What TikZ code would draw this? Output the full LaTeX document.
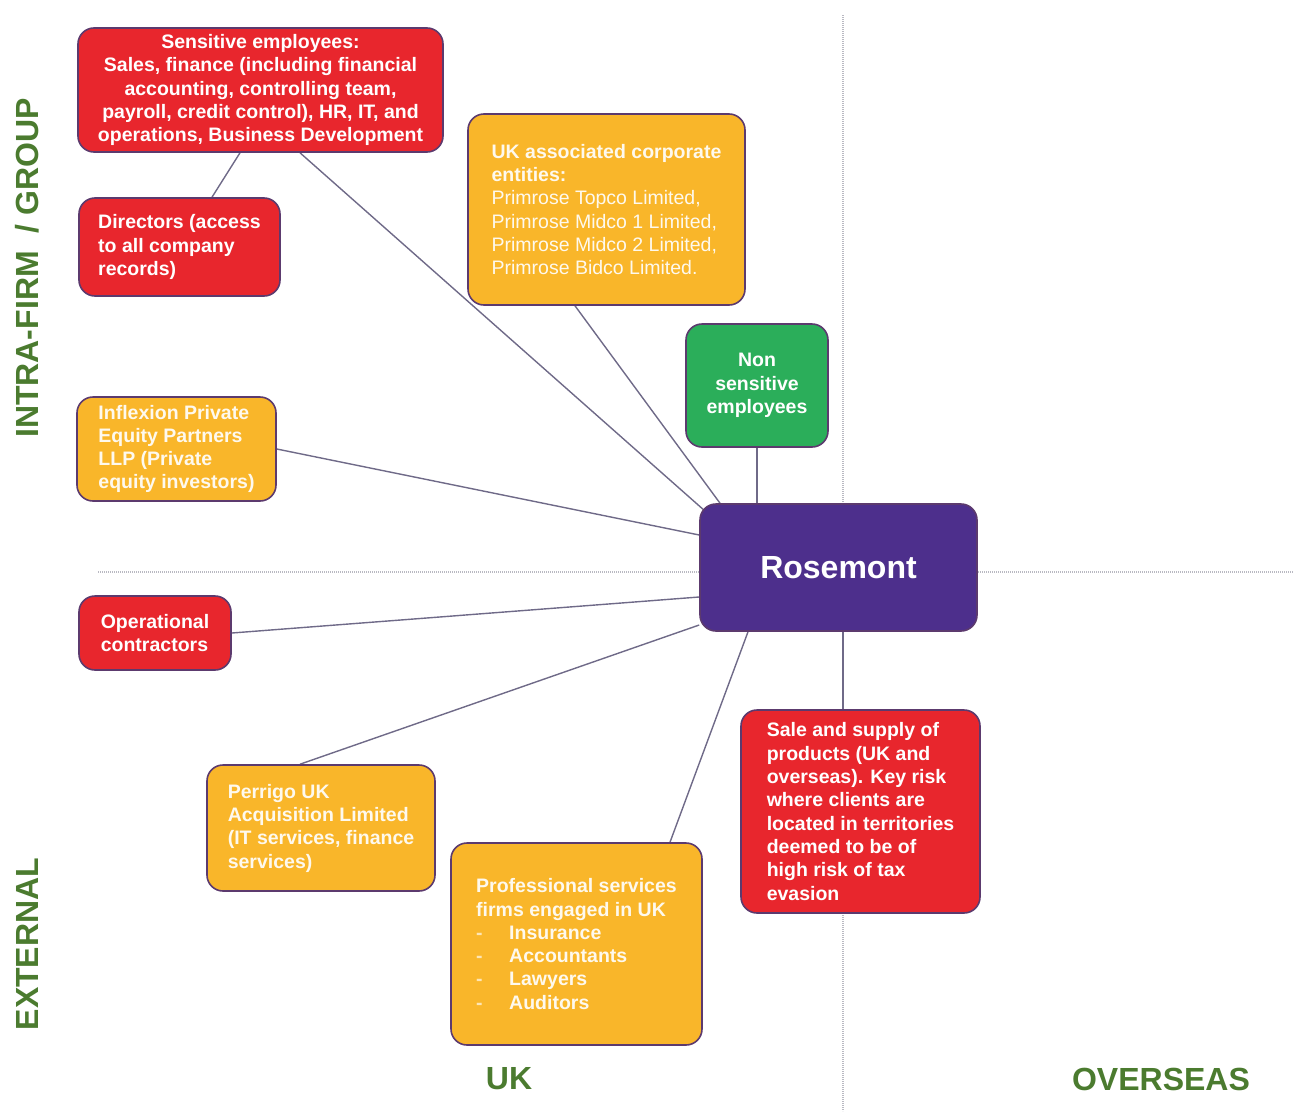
\documentclass[tikz,border=0pt]{standalone}
\usepackage{fontspec}
\setmainfont{Liberation Sans}
\usetikzlibrary{backgrounds}

\definecolor{boxred}{HTML}{E8262D}
\definecolor{boxorange}{HTML}{F9B62A}
\definecolor{boxgreen}{HTML}{2BAE5A}
\definecolor{boxpurple}{HTML}{4D2F8C}
\definecolor{boxline}{HTML}{5C3A6E}
\definecolor{linkgrey}{HTML}{6F6A88}
\definecolor{axisgreen}{HTML}{4B7B2F}
\definecolor{divgrey}{HTML}{B9B9C2}

\newcommand{\dashitem}[1]{\makebox[33pt][l]{\textcolor{white!65!boxorange}{-}}#1}

\begin{document}
\begin{tikzpicture}[x=1pt, y=-1pt,
	box/.style={draw=boxline, line width=1.6pt, rounded corners=16pt, text=white, inner sep=0pt,
		font=\bfseries\fontsize{19.5}{23.3}\selectfont},
	redbox/.style={box, fill=boxred},
	orangebox/.style={box, fill=boxorange, text=white!92!boxorange},
	greenbox/.style={box, fill=boxgreen},
	link/.style={draw=linkgrey, line width=1.4pt},
	divider/.style={draw=divgrey, line width=1.3pt, dash pattern=on 1.2pt off 0.8pt},
	axis/.style={text=axisgreen, font=\bfseries\fontsize{32}{32}\selectfont}]

	\useasboundingbox (0,0) rectangle (1293,1111);

	%centro
	\node[box, fill=boxpurple, minimum width=277pt, minimum height=127pt,
		font=\bfseries\fontsize{32}{32}\selectfont] (rose) at (838.5,567.5) {Rosemont};

	%intra-firm / group
	\node[redbox, minimum width=365pt, minimum height=124pt, align=center] (sens) at (260.5,90)
		{Sensitive employees:\\ Sales, finance (including financial\\ accounting, controlling team,\\
		payroll, credit control), HR, IT, and\\ operations, Business Development};
	\node[redbox, minimum width=201pt, minimum height=98pt, align=left] (dir) at (179.5,247)
		{Directors (access\\ to all company\\ records)};
	\node[orangebox, minimum width=277pt, minimum height=191pt, align=left] (ukco) at (606.5,209.5)
		{UK associated corporate\\ entities:\\ \mdseries Primrose Topco Limited,\\
		\mdseries Primrose Midco 1 Limited,\\ \mdseries Primrose Midco 2 Limited,\\
		\mdseries Primrose Bidco Limited.};
	\node[greenbox, minimum width=142pt, minimum height=123pt, align=center] (nonsens) at (757,385.5)
		{Non\\ sensitive\\ employees};
	\node[orangebox, minimum width=199pt, minimum height=104pt, align=left] (inflex) at (176.5,449)
		{Inflexion Private\\ Equity Partners\\ LLP (Private\\ equity investors)};

	%external
	\node[redbox, minimum width=152pt, minimum height=74pt, align=left] (oper) at (155,633)
		{Operational\\ contractors};
	\node[orangebox, minimum width=228pt, minimum height=126pt, align=left] (perr) at (321,828)
		{Perrigo UK\\ Acquisition Limited\\ (IT services, finance\\ services)};
	\node[orangebox, minimum width=251pt, minimum height=202pt, align=left] (prof) at (576.5,944)
		{Professional services\\ firms engaged in UK\\ \dashitem{Insurance}\\ \dashitem{Accountants}\\
		\dashitem{Lawyers}\\ \dashitem{Auditors}};
	\node[redbox, minimum width=239pt, minimum height=203pt, align=left] (sale) at (860.5,811.5)
		{Sale and supply of\\ products (UK and\\ overseas). Key risk\\ where clients are\\
		located in territories\\ deemed to be of\\ high risk of tax\\ evasion};

	%eixos
	\node[axis, rotate=90] (intra) at (27,268) {INTRA-FIRM\ \ / GROUP};
	\node[axis, rotate=90] (ext) at (27,944) {EXTERNAL};
	\node[axis] (uk) at (509,1079) {UK};
	\node[axis] (over) at (1161,1079) {OVERSEAS};

	\begin{scope}[on background layer]
		%divisoes
		\draw[divider] (98,572) -- (1293,572);
		\draw[divider] (843,15) -- (843,1111);

		%ligacoes
		\draw[link] ([xshift=39.5pt]sens.south) -- ([xshift=6pt,yshift=-8pt]rose.north west);
		\draw[link] ([xshift=-20.5pt]sens.south) -- ([xshift=32.5pt]dir.north);
		\draw[link] ([xshift=-31.5pt]ukco.south) -- ([xshift=-118.5pt]rose.north);
		\draw[link] (nonsens.south) -- (nonsens.south |- rose.north);
		\draw[link] (inflex.east) -- ([yshift=32.5pt]rose.west);
		\draw[link] (oper.east) -- ([yshift=-29.5pt]rose.west);
		\draw[link] ([xshift=-21pt]perr.north) -- ([yshift=-57.5pt]rose.west);
		\draw[link] ([xshift=93.5pt]prof.north) -- ([xshift=-90.5pt]rose.south);
		\draw[link] ([xshift=-17.5pt]sale.north) -- ([xshift=-17.5pt]sale.north |- rose.south);
	\end{scope}
\end{tikzpicture}
\end{document}
